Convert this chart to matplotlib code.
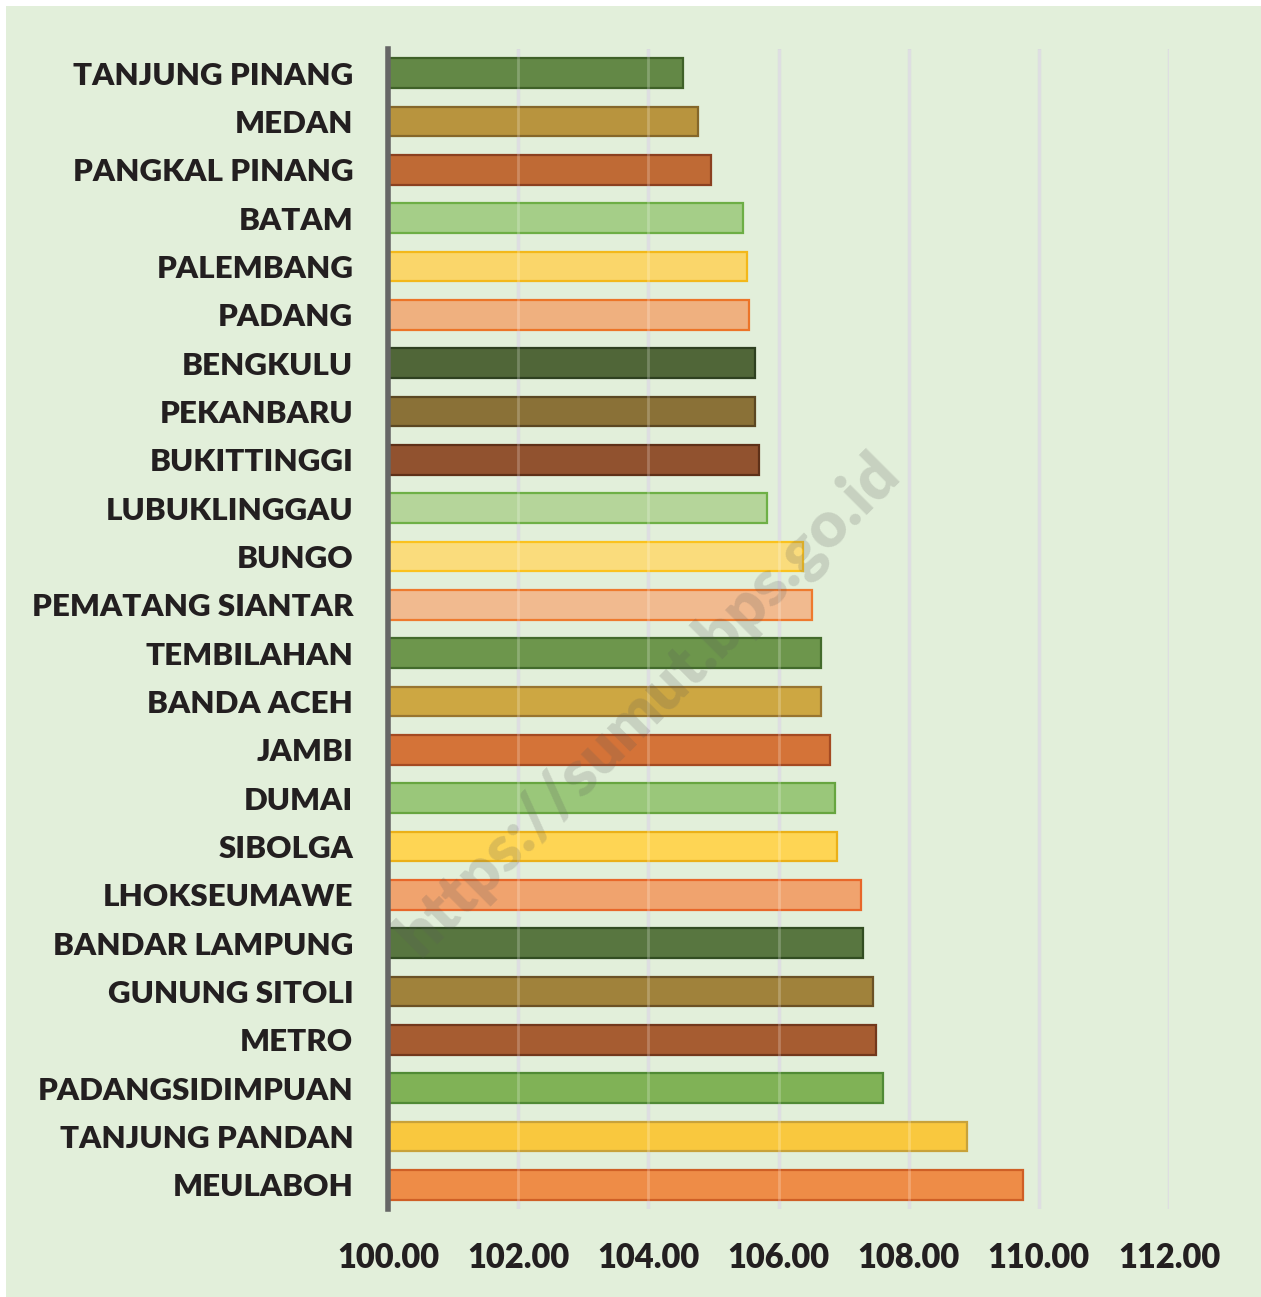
import matplotlib
matplotlib.use("Agg")
import matplotlib.pyplot as plt
from matplotlib.patches import Rectangle

# Index values per city (base 100)
cities = [
    "TANJUNG PINANG", "MEDAN", "PANGKAL PINANG", "BATAM", "PALEMBANG", "PADANG",
    "BENGKULU", "PEKANBARU", "BUKITTINGGI", "LUBUKLINGGAU", "BUNGO",
    "PEMATANG SIANTAR", "TEMBILAHAN", "BANDA ACEH", "JAMBI", "DUMAI", "SIBOLGA",
    "LHOKSEUMAWE", "BANDAR LAMPUNG", "GUNUNG SITOLI", "METRO", "PADANGSIDIMPUAN",
    "TANJUNG PANDAN", "MEULABOH",
]
values = [
    104.54, 104.77, 104.96, 105.46, 105.52, 105.55,
    105.64, 105.64, 105.70, 105.83, 106.38,
    106.52, 106.65, 106.65, 106.79, 106.87, 106.90,
    107.27, 107.30, 107.45, 107.50, 107.61,
    108.90, 109.76,
]
xticks = [100, 102, 104, 106, 108, 110, 112]

fills = [
    "#638846", "#B8943E", "#BF6A35", "#A5CE88", "#FAD66A", "#EFB07F",
    "#506638", "#8A7137", "#91522F", "#B5D59A", "#FADC7C", "#F1BA8F",
    "#6D964C", "#CDA742", "#D47338", "#9AC77A", "#FED554", "#F0A36E",
    "#587640", "#A0823B", "#A65C31", "#80B256", "#F9C83E", "#EE8C47",
]
edges = [
    "#3F6128", "#85672A", "#8B4020", "#6DAE45", "#F3B81A", "#EC7428",
    "#2E4020", "#5B4722", "#5E3018", "#6EB046", "#FBC21E", "#EE7A2E",
    "#436B2C", "#987530", "#A44A22", "#67A540", "#EBB018", "#E8672A",
    "#324D22", "#6B5125", "#72381C", "#508A35", "#C8A23A", "#CF5F26",
]

BG = "#E2EFDA"
FONT = "Lato"

fig = plt.figure(figsize=(12.61, 12.97), dpi=100)
fig.patch.set_facecolor("white")
fig.patches.append(Rectangle((6 / 1261, 0), 1 - 6 / 1261, 1 - 6 / 1297,
                             transform=fig.transFigure, facecolor=BG,
                             edgecolor="none", zorder=-10))

ax = fig.add_axes([388 / 1261, 88 / 1297, (1169 - 388) / 1261, (1209 - 49) / 1297])
ax.set_facecolor("none")

ypos = list(range(len(cities)))
base = xticks[0]
ax.barh(ypos, [v - base for v in values], left=base, height=0.62,
        color=fills, edgecolor=edges, linewidth=1.6, zorder=2)

ax.set_xlim(xticks[0], xticks[-1])
ax.set_ylim(len(cities) - 0.5, -0.5)

# vertical gridlines below the bars, plus a faint pass over them
ax.set_xticks(xticks)
ax.set_xticklabels([f"{t:.2f}" for t in xticks])
ax.grid(axis="x", color="#D6D6DA", linewidth=2.4, zorder=0)
ax.set_axisbelow(True)
ax.vlines(xticks[1:], -0.5, len(cities) - 0.5, colors="white", alpha=0.22,
          linewidth=2.0, zorder=3)

ax.set_yticks(ypos)
ax.set_yticklabels(cities)

for s in ["top", "right", "bottom"]:
    ax.spines[s].set_visible(False)
ax.spines["left"].set_color("#666666")
ax.spines["left"].set_linewidth(4)
ax.spines["left"].set_zorder(4)

ax.tick_params(axis="both", length=0)
ax.tick_params(axis="y", pad=25)
ax.tick_params(axis="x", pad=24)
for lbl in ax.get_yticklabels():
    lbl.set_fontsize(22.5)
for lbl in ax.get_xticklabels():
    lbl.set_fontsize(23.5)
for lbl in ax.get_yticklabels() + ax.get_xticklabels():
    lbl.set_fontfamily(FONT)
    lbl.set_fontweight("heavy")
    lbl.set_color("#231F20")

# site watermark
fig.text(648 / 1261, 1 - 705 / 1297, "https://sumut.bps.go.id", rotation=45,
         ha="center", va="center", fontsize=46, fontweight="heavy",
         family=FONT, color="#5A5A5A", alpha=0.2, zorder=10)

fig.savefig("out.png", dpi=100, facecolor=fig.get_facecolor())
